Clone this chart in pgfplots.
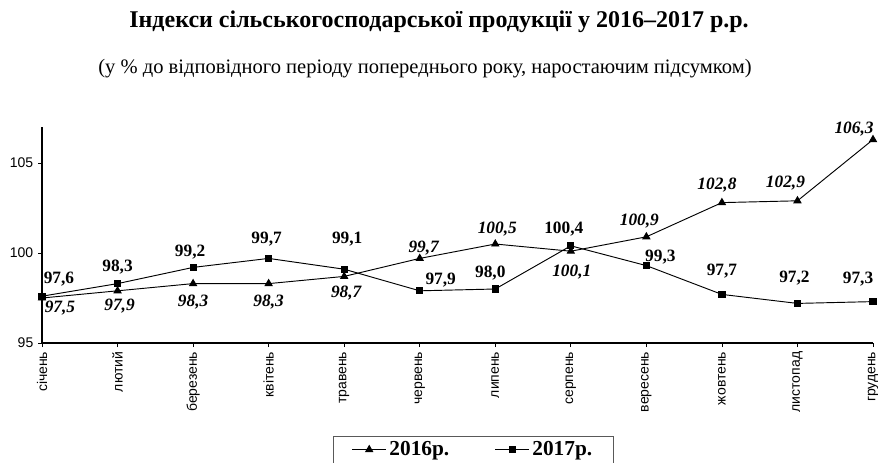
\documentclass[border=0pt]{standalone}
\usepackage{fontspec}
\setmainfont{Liberation Serif}
\setsansfont{Liberation Sans}
\usepackage{pgfplots}
\pgfplotsset{compat=1.18}
\usepackage{pgfplotstable}

\pgfplotstableread{
x y dx dy lab
0 97.5 18 -10 97,5
1 97.9 2 -15 97,9
2 98.3 0 -18 98,3
3 98.3 0 -18 98,3
4 98.7 2 -17 98,7
5 99.7 4 10 99,7
6 100.5 2 15 100,5
7 100.1 1 -21 100,1
8 100.9 -7 16 100,9
9 102.8 -5 18 102,8
10 102.9 -12 18 102,9
11 106.3 -19 11 106,3
}\sixteen

\pgfplotstableread{
x y dx dy lab
0 97.6 17 17 97,6
1 98.3 0 17 98,3
2 99.2 -3 15 99,2
3 99.7 -2 19 99,7
4 99.1 3 30 99,1
5 97.9 21 11 97,9
6 98.0 -5 16 98,0
7 100.4 -7 17 100,4
8 99.3 14 9 99,3
9 97.7 0 23 97,7
10 97.2 -3 25 97,2
11 97.3 -15 23 97,3
}\seventeen

\begin{document}
\begin{tikzpicture}
\useasboundingbox (0pt,0pt) rectangle (658.5pt,-346.5pt);
\node[font=\bfseries\fontsize{18}{21}\selectfont] at (329.25pt,-16pt) {Індекси сільськогосподарської продукції у 2016–2017 р.р.};
\node[font=\fontsize{15.4}{18}\selectfont] at (318.75pt,-51.5pt) {(у \% до відповідного періоду попереднього року, наростаючим підсумком)};
\begin{axis}[
  at={(31.5pt,-257.25pt)}, anchor=south west,
  scale only axis, width=623.25pt, height=162pt,
  xmin=0, xmax=11, ymin=95, ymax=107,
  axis lines=left,
  axis line style={-, black, line width=0.8pt},
  ytick={95,100,105},
  xtick={0,...,11},
  xticklabels={січень,лютий,березень,квітень,травень,червень,липень,серпень,вересень,жовтень,листопад,грудень},
  tick align=outside,
  major tick length=3pt,
  tick style={black, line width=0.6pt},
  /pgf/number format/assume math mode=true,
  ticklabel style={font=\sffamily\fontsize{10.5}{12}\selectfont},
  xticklabel style={rotate=90, anchor=east},
  clip=false,
  legend columns=2,
  legend style={at={(axis description cs:0.519,-0.43)}, anchor=north,
    draw=gray!70!black, line width=0.5pt, inner xsep=14pt,
    font=\bfseries\fontsize{16}{19}\selectfont,
    /tikz/every even column/.append style={column sep=32pt}},
  legend image code/.code={\draw[mark repeat=2,mark phase=2] plot coordinates {(0cm,0cm) (0.45cm,0cm) (0.9cm,0cm)};},
  nodes near coords,
  point meta=explicit symbolic,
  visualization depends on={\thisrow{dx}\as\dx},
  visualization depends on={\thisrow{dy}\as\dy},
]
\addplot[black, line width=0.7pt, mark=triangle*, mark size=3pt,
  nodes near coords style={anchor=center, xshift={0.75pt*\dx}, yshift={0.75pt*\dy}, font=\bfseries\itshape\fontsize{13}{15}\selectfont}]
  table[x=x, y=y, meta=lab] {\sixteen};
\addlegendentry{2016р.}
\addplot[black, line width=0.7pt, mark=square*, mark size=2.3pt,
  nodes near coords style={anchor=center, xshift={0.75pt*\dx}, yshift={0.75pt*\dy}, font=\bfseries\fontsize{13}{15}\selectfont}]
  table[x=x, y=y, meta=lab] {\seventeen};
\addlegendentry{2017р.}
\end{axis}
\end{tikzpicture}
\end{document}
